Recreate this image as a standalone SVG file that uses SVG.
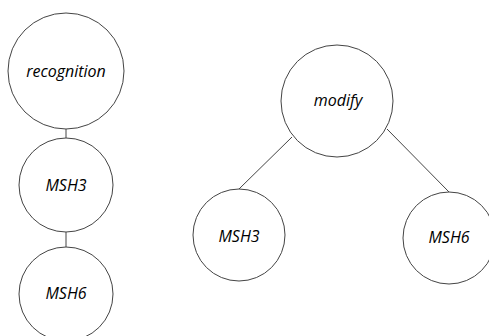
<svg xmlns="http://www.w3.org/2000/svg" width="489" height="336" viewBox="0 0 489 336">
<style>
.n{fill:#fff;stroke:#444;stroke-width:1}
.t{font-family:"Open Sans","Noto Sans",sans-serif;font-style:italic;font-size:16px;fill:#000;text-anchor:middle}
.e{stroke:#444;stroke-width:1;fill:none}
</style>
<rect width="489" height="336" fill="#fff"/>
<g id="connectors">
<line class="e" x1="66" y1="129" x2="66" y2="138"/>
<line class="e" x1="66" y1="232" x2="66" y2="247"/>
<line class="e" x1="292" y1="137" x2="239" y2="189"/>
<line class="e" x1="387" y1="129" x2="449" y2="192"/>
</g>
<g id="recognition"><circle class="n" cx="66" cy="71" r="58"/><text class="t" x="66" y="77">recognition</text></g>
<g id="msh3_left"><circle class="n" cx="66" cy="185" r="47"/><text class="t" x="66" y="191">MSH3</text></g>
<g id="msh6_left"><circle class="n" cx="66" cy="294" r="47"/><text class="t" x="66" y="299">MSH6</text></g>
<g id="modify"><circle class="n" cx="337" cy="101" r="56"/><text class="t" x="338" y="106">modify</text></g>
<g id="msh3_right"><circle class="n" cx="239" cy="235" r="46"/><text class="t" x="239" y="242">MSH3</text></g>
<g id="msh6_right"><circle class="n" cx="449" cy="238" r="46"/><text class="t" x="449" y="243">MSH6</text></g>
</svg>
